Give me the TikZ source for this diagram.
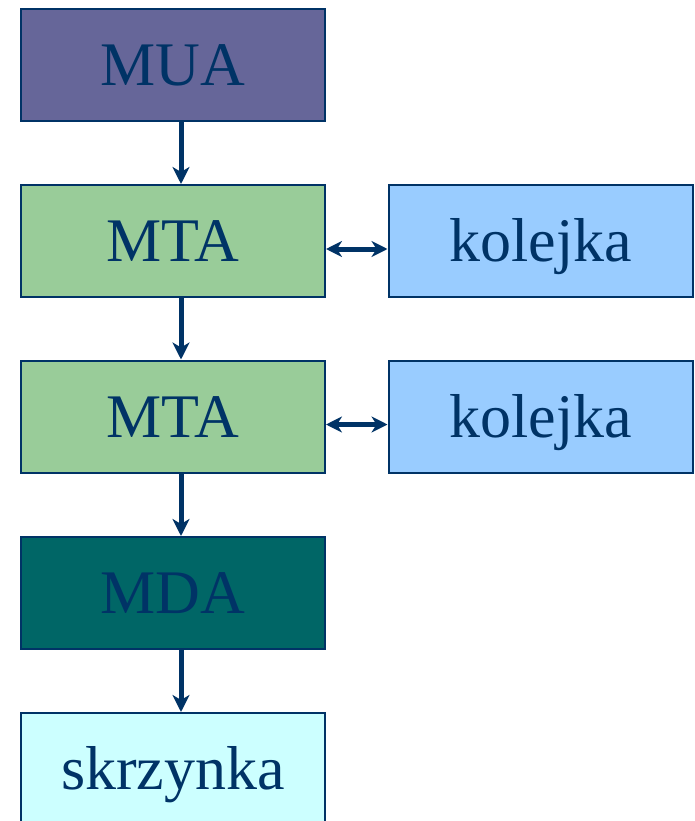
\documentclass[tikz,border=0pt]{standalone}
\usepackage{fontspec}
\setmainfont{Liberation Serif}
\usetikzlibrary{arrows.meta}
\definecolor{ink}{HTML}{003366}
\definecolor{muafill}{HTML}{666699}
\definecolor{mtafill}{HTML}{99CC99}
\definecolor{kolfill}{HTML}{99CCFF}
\definecolor{mdafill}{HTML}{006666}
\definecolor{skrfill}{HTML}{CCFFFF}
\begin{document}
\begin{tikzpicture}[x=1pt,y=1pt,
  box/.style={draw=ink,line width=2pt,minimum width=304pt,minimum height=112pt,
    inner sep=0pt,text=ink,font=\fontsize{62}{70}\selectfont,
    text height=41pt,text depth=0pt},
  conn/.style={draw=ink,line width=5pt,-{Stealth[length=17pt,width=17pt,inset=5pt]}},
  biconn/.style={draw=ink,line width=5pt,{Stealth[length=16pt,width=16pt,inset=5pt]}-{Stealth[length=16pt,width=16pt,inset=5pt]}}]
\useasboundingbox (0,0) rectangle (695,-821);
\clip (0,0) rectangle (695,-821);
\node[box,fill=muafill] (mua) at (173,-65) {MUA};
\node[box,fill=mtafill] (mta1) at (173,-241) {MTA};
\node[box,fill=kolfill] (k1) at (540.5,-241) {kolejka};
\node[box,fill=mtafill] (mta2) at (173,-416.5) {MTA};
\node[box,fill=kolfill] (k2) at (540.5,-416.5) {kolejka};
\node[box,fill=mdafill] (mda) at (173,-593) {MDA};
\node[box,fill=skrfill] (skr) at (173,-769) {skrzynka};
\draw[conn] ([xshift=8pt]mua.south) -- ([xshift=8pt]mta1.north);
\draw[conn] ([xshift=8pt]mta1.south) -- ([xshift=8pt]mta2.north);
\draw[conn] ([xshift=8pt]mta2.south) -- ([xshift=8pt]mda.north);
\draw[conn] ([xshift=8pt]mda.south) -- ([xshift=8pt]skr.north);
\draw[biconn] ([yshift=-8pt]mta1.east) -- ([yshift=-8pt]k1.west);
\draw[biconn] ([yshift=-8pt]mta2.east) -- ([yshift=-8pt]k2.west);
\end{tikzpicture}
\end{document}
